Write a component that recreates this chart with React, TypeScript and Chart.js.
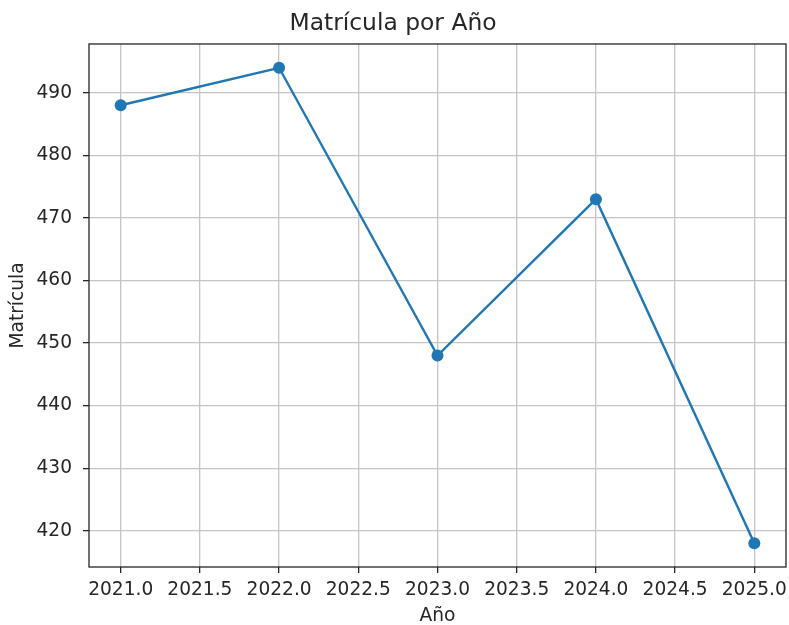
import React, { useEffect, useRef } from "react";
import { Chart, registerables } from "chart.js";

Chart.register(...registerables);

const years = [2021, 2022, 2023, 2024, 2025];
const matricula = [488, 494, 448, 473, 418];
const xTicks = [2021.0, 2021.5, 2022.0, 2022.5, 2023.0, 2023.5, 2024.0, 2024.5, 2025.0];
const yTicks = [420, 430, 440, 450, 460, 470, 480, 490];
const xRange = [2020.8, 2025.2];
const yRange = [414.2, 497.8];
const titleText = "Matrícula por Año";
const xLabel = "Año";
const yLabel = "Matrícula";

const FONT = "'DejaVu Sans', sans-serif";
const TEXT = "#262626";
const TICK_SIZE = 18.6;

const boxPlugin = {
  id: "axesBox",
  afterDatasetsDraw(chart: any) {
    const { ctx, chartArea } = chart;
    ctx.save();
    ctx.strokeStyle = "#262626";
    ctx.lineWidth = 1.3;
    ctx.strokeRect(chartArea.left, chartArea.top, chartArea.right - chartArea.left, chartArea.bottom - chartArea.top);
    ctx.restore();
  },
};

export default function App() {
  const ref = useRef<HTMLCanvasElement | null>(null);
  useEffect(() => {
    if (!ref.current) return;
    const chart = new Chart(ref.current, {
      type: "line",
      data: {
        datasets: [
          {
            data: years.map((y, i) => ({ x: y, y: matricula[i] })),
            borderColor: "#1f77b4",
            backgroundColor: "#1f77b4",
            borderWidth: 2.4,
            pointRadius: 6,
            pointHoverRadius: 6,
            pointBorderWidth: 0,
            pointBackgroundColor: "#1f77b4",
            tension: 0,
            clip: false as any,
          },
        ],
      },
      options: {
        responsive: false,
        animation: false,
        layout: { autoPadding: false, padding: { left: 0, right: 3, top: 0, bottom: 0 } },
        plugins: {
          legend: { display: false },
          tooltip: { enabled: false },
          title: {
            display: true,
            text: titleText,
            color: TEXT,
            font: { family: FONT, size: 23.4, weight: "normal" as any, lineHeight: 1.2 },
            padding: { top: 10, bottom: 5.9 },
          },
        },
        scales: {
          x: {
            type: "linear",
            min: xRange[0],
            max: xRange[1],
            afterBuildTicks: (scale: any) => {
              scale.ticks = xTicks.map((v) => ({ value: v }));
            },
            afterFit: (scale: any) => {
              scale.height = 58;
              scale.paddingLeft = 0;
              scale.paddingRight = 0;
            },
            ticks: {
              color: TEXT,
              font: { family: FONT, size: TICK_SIZE, lineHeight: 1.2 },
              padding: 5.8,
              maxRotation: 0,
              autoSkip: false,
              callback: (v: any) => Number(v).toFixed(1),
            },
            grid: {
              color: "#c4c4c4",
              lineWidth: 1.3,
              tickColor: "#262626",
              tickLength: 6,
              tickWidth: 1.3,
            },
            border: { display: false },
            title: {
              display: true,
              text: xLabel,
              color: TEXT,
              font: { family: FONT, size: TICK_SIZE, lineHeight: 1.2 },
              padding: { top: 0, bottom: -2 },
            },
          },
          y: {
            type: "linear",
            min: yRange[0],
            max: yRange[1],
            afterBuildTicks: (scale: any) => {
              scale.ticks = yTicks.map((v) => ({ value: v }));
            },
            afterFit: (scale: any) => {
              scale.width = 89;
              scale.paddingTop = 0;
              scale.paddingBottom = 0;
            },
            ticks: {
              color: TEXT,
              font: { family: FONT, size: TICK_SIZE, lineHeight: 1.2 },
              padding: 11,
              autoSkip: false,
              callback: (v: any) => String(v),
            },
            grid: {
              color: "#c4c4c4",
              lineWidth: 1.3,
              tickColor: "#262626",
              tickLength: 6,
              tickWidth: 1.3,
            },
            border: { display: false },
            title: {
              display: true,
              text: yLabel,
              color: TEXT,
              font: { family: FONT, size: TICK_SIZE, lineHeight: 1.2 },
              padding: { top: 6.8, bottom: 0 },
            },
          },
        },
      },
      plugins: [boxPlugin],
    });
    return () => chart.destroy();
  }, []);
  return (
    <div style={{ position: "fixed", left: 0, top: 0, width: 789, height: 625, background: "#fff" }}>
      <canvas ref={ref} width={789} height={625} style={{ display: "block" }} />
    </div>
  );
}
